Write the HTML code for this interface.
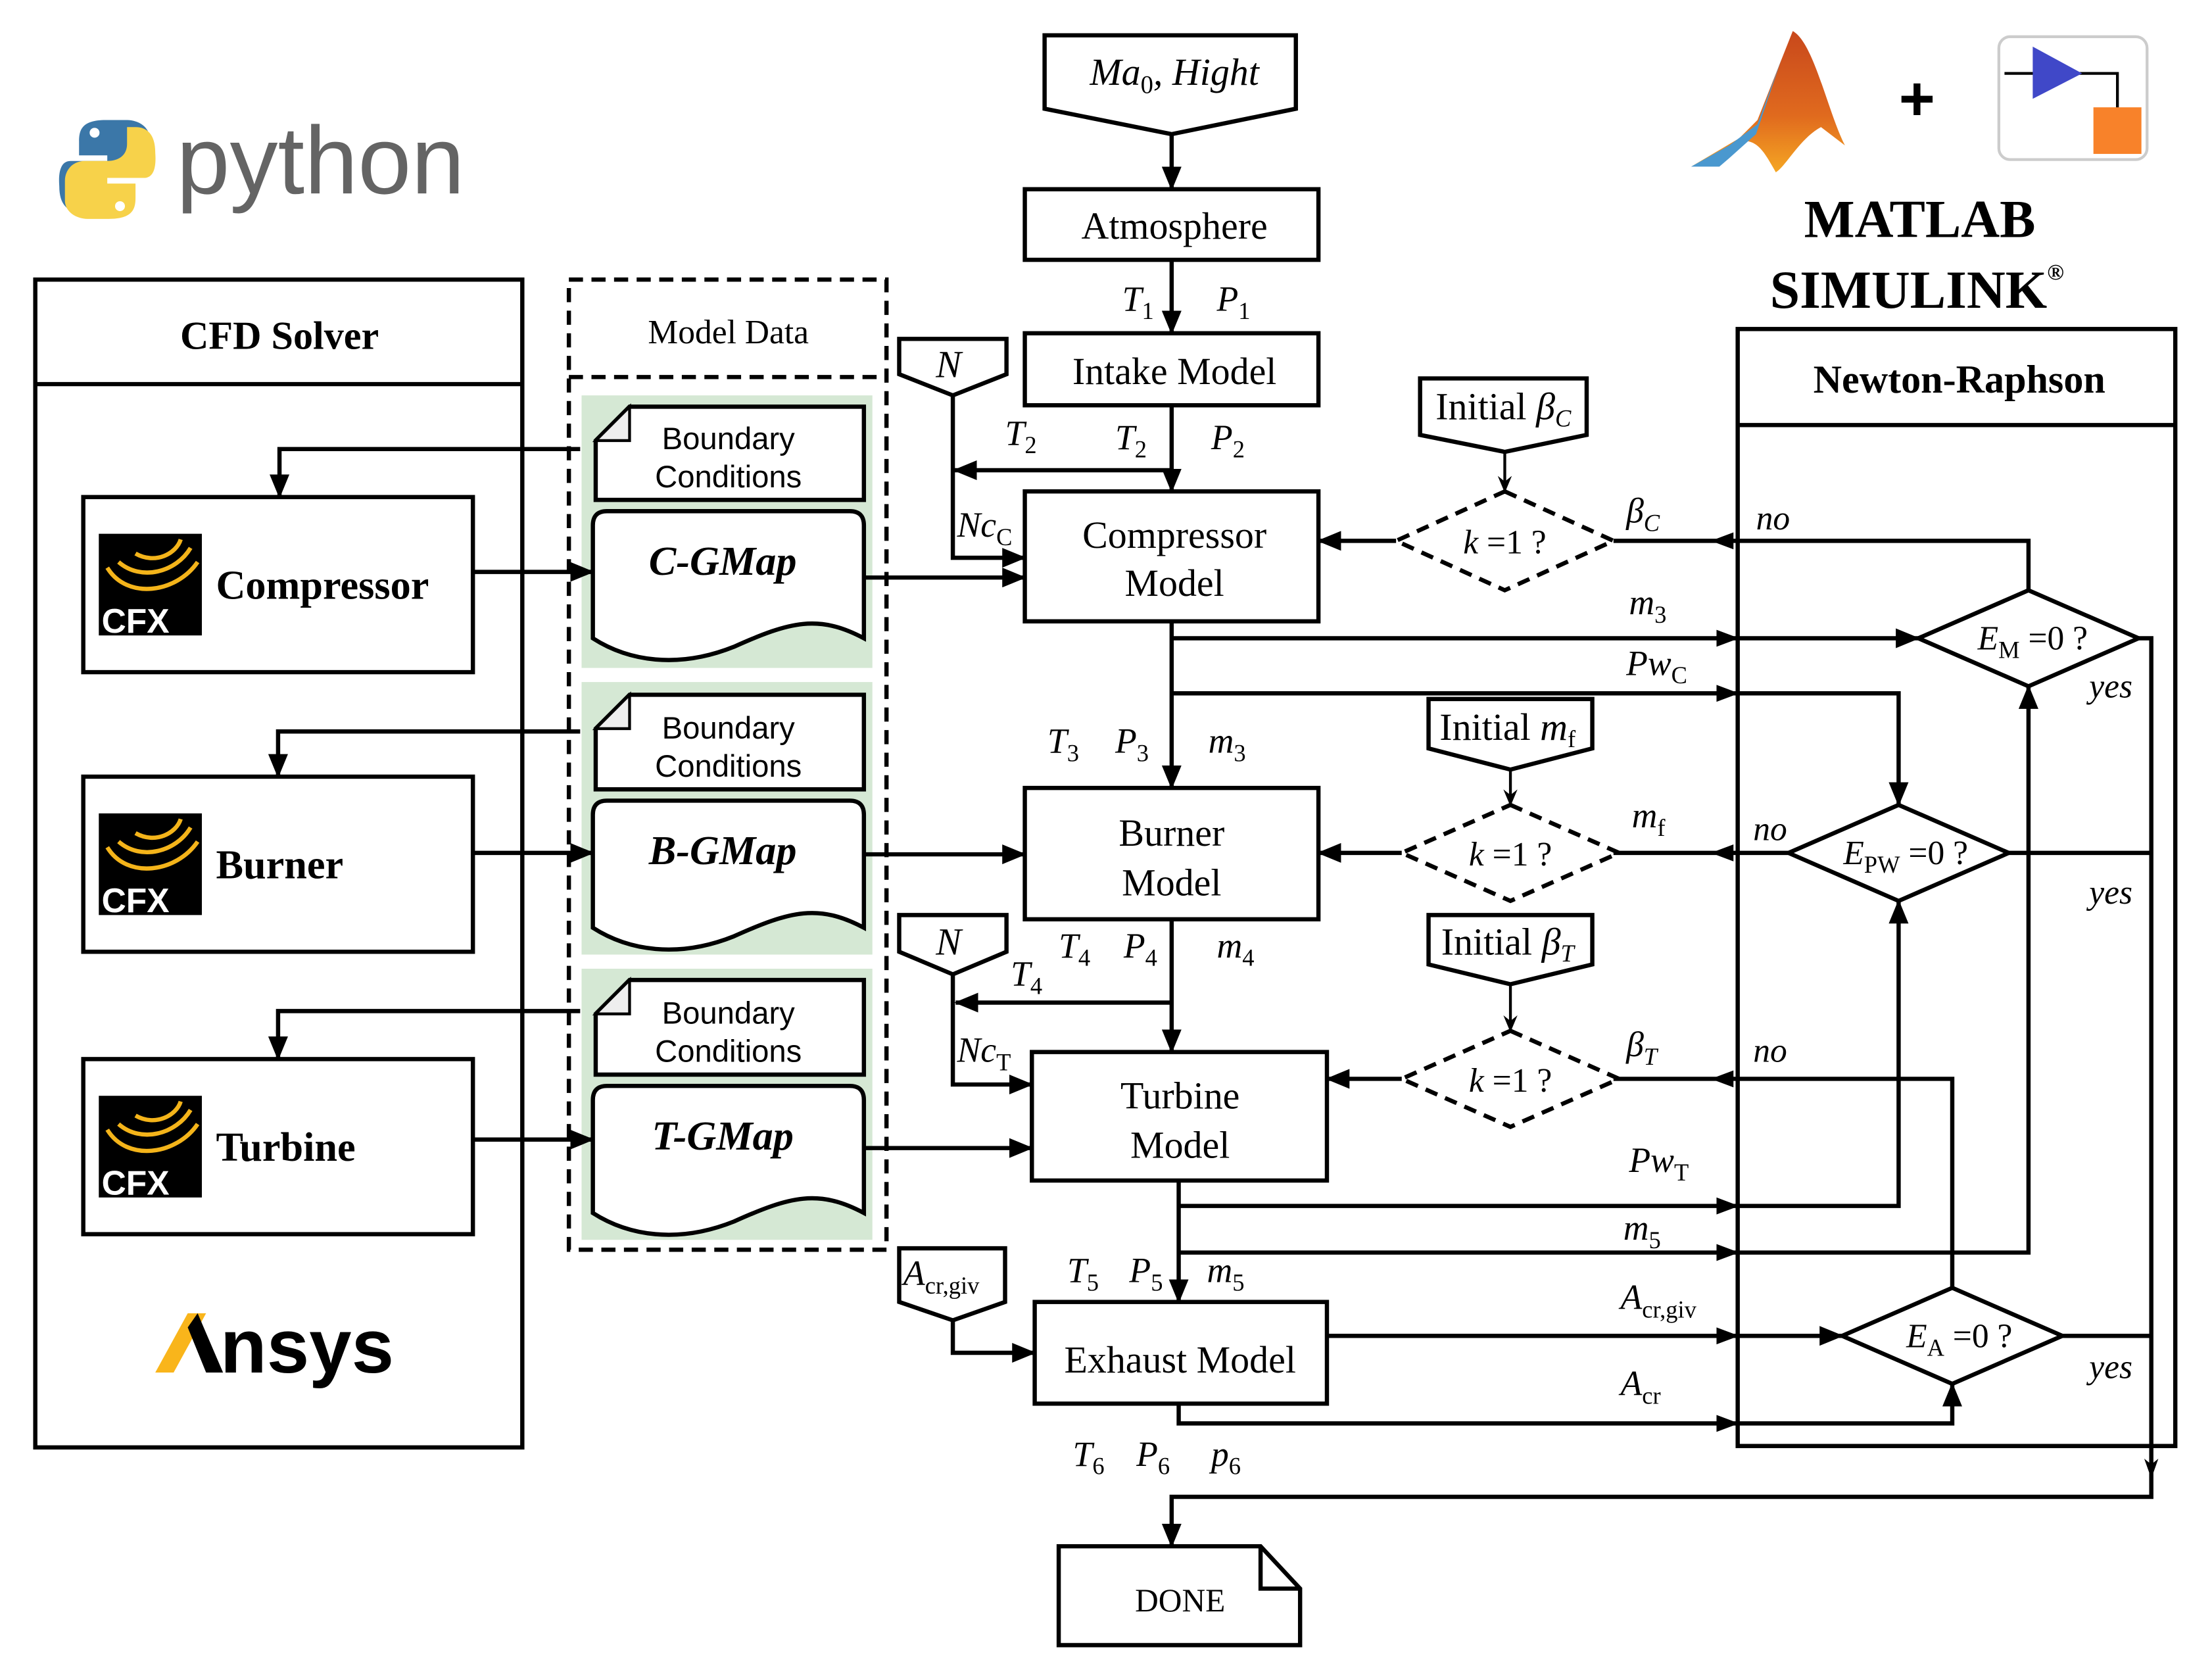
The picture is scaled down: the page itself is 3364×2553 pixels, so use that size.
<!DOCTYPE html>
<html><head><meta charset="utf-8"><style>
html,body{margin:0;padding:0;background:#fff}
svg{display:block}
text{font-family:"Liberation Serif",serif}
.s{font-family:"Liberation Sans",sans-serif}
.i{font-style:italic}
</style></head><body>
<svg width="3364" height="2553" viewBox="0 0 1567 1189" preserveAspectRatio="none" xmlns="http://www.w3.org/2000/svg">
<defs>
<marker id="a" markerUnits="userSpaceOnUse" markerWidth="18" markerHeight="14" refX="16" refY="7" orient="auto"><path d="M0,0 L17,7 L0,14 Z" fill="#000"/></marker>
<marker id="sm" markerUnits="userSpaceOnUse" markerWidth="12" markerHeight="10" refX="11" refY="5" orient="auto"><path d="M0,0 L12,5 L0,10 L4,5 Z" fill="#000"/></marker>
<linearGradient id="mg" x1="0" y1="0" x2="0" y2="1"><stop offset="0" stop-color="#c8481c"/><stop offset="0.6" stop-color="#e06a1e"/><stop offset="1" stop-color="#f5a623"/></linearGradient>
</defs>
<rect width="1567" height="1189" fill="#fff"/>

<!-- python logo -->
<path d="M75,85 C58,85 56,92 56,100 L56,110 L76,110 L76,114 L50,114 C40,114 42,130 42,132 C42,145 48,150 56,150 L62,150 L62,138 C62,130 68,126 76,126 L92,126 C100,126 106,120 106,112 L106,98 C106,90 98,85 90,85 Z" fill="#3b77a8"/>
<path d="M77,155 C94,155 96,148 96,140 L96,130 L76,130 L76,126 L102,126 C112,126 110,110 110,108 C110,95 104,90 96,90 L90,90 L90,102 C90,110 84,114 76,114 L60,114 C52,114 46,120 46,128 L46,142 C46,150 54,155 62,155 Z" fill="#f7d24a"/>
<circle cx="67" cy="94" r="3.5" fill="#fff"/><circle cx="85" cy="146" r="3.5" fill="#fff"/>
<text x="125" y="137" class="s" font-size="68" fill="#646464">python</text>

<!-- matlab logo -->
<path d="M1198,118 L1232,98 L1245,85 L1270,22 C1285,30 1295,80 1307,103 L1290,90 C1275,98 1265,118 1258,122 C1250,108 1245,98 1232,100 Z" fill="url(#mg)"/>
<path d="M1198,118 L1225,103 L1245,88 L1262,42 L1244,95 L1225,112 L1218,118 Z" fill="#4a98cf"/>
<text x="1358" y="85" font-size="44" font-weight="bold" text-anchor="middle" class="s">+</text>
<rect x="1416" y="26" width="105" height="87" rx="8" fill="#fff" stroke="#ccc" stroke-width="2"/>
<line x1="1420" y1="52" x2="1472" y2="52" stroke="#000" stroke-width="2"/>
<polyline points="1460,52 1500,52 1500,78" fill="none" stroke="#000" stroke-width="2"/>
<path d="M1440,33 L1475,52 L1440,70 Z" fill="#4048c8"/>
<rect x="1483" y="76" width="34" height="33" fill="#f8822a"/>
<text x="1360" y="168" font-size="38" font-weight="bold" text-anchor="middle">MATLAB</text>
<text x="1358" y="218" font-size="38" font-weight="bold" text-anchor="middle">SIMULINK<tspan font-size="16" dy="-20">®</tspan></text>

<g stroke="#000" stroke-width="3" fill="none">
<rect x="25" y="198" width="345" height="827"/>
<line x1="25" y1="272" x2="370" y2="272"/>
<rect x="59" y="352" width="276" height="124"/>
<rect x="59" y="550" width="276" height="124"/>
<rect x="59" y="750" width="276" height="124"/>
<rect x="403" y="198" width="225" height="687" stroke-dasharray="10,6"/>
<line x1="403" y1="267" x2="628" y2="267" stroke-dasharray="10,6"/>
</g>
<g fill="#d5e8d4">
<rect x="412" y="280" width="206" height="193"/>
<rect x="412" y="483" width="206" height="193"/>
<rect x="412" y="686" width="206" height="192"/>
</g>
<g stroke="#000" stroke-width="3" fill="#fff">
<path d="M446,288 L612,288 L612,354 L422,354 L422,312 Z"/>
<path d="M446,492 L612,492 L612,559 L422,559 L422,516 Z"/>
<path d="M446,694 L612,694 L612,761 L422,761 L422,718 Z"/>
<path d="M430,362 L602,362 Q612,362 612,372 L612,452 C580,435 560,440 520,458 C480,474 445,468 420,452 L420,372 Q420,362 430,362 Z"/>
<path d="M430,567 L602,567 Q612,567 612,577 L612,657 C580,640 560,645 520,663 C480,679 445,673 420,657 L420,577 Q420,567 430,567 Z"/>
<path d="M430,769 L602,769 Q612,769 612,779 L612,859 C580,842 560,847 520,865 C480,881 445,875 420,859 L420,779 Q420,769 430,769 Z"/>
</g>
<g fill="#eee" stroke="#000" stroke-width="2"><path d="M446,288 L446,312 L422,312 Z"/><path d="M446,492 L446,516 L422,516 Z"/><path d="M446,694 L446,718 L422,718 Z"/></g>

<g>
<rect x="70" y="378" width="73" height="72" fill="#000"/><rect x="70" y="576" width="73" height="72" fill="#000"/><rect x="70" y="776" width="73" height="72" fill="#000"/>
<g fill="none" stroke="#f4b41a" stroke-width="3">
<path d="M76,402 C90,425 125,420 140,398 M84,398 C100,412 125,405 135,388 M96,392 C110,400 125,392 128,382"/>
<path d="M76,600 C90,623 125,618 140,596 M84,596 C100,610 125,603 135,586 M96,590 C110,598 125,590 128,580"/>
<path d="M76,800 C90,823 125,818 140,796 M84,796 C100,810 125,803 135,786 M96,790 C110,798 125,790 128,780"/>
</g>
<g fill="#fff" font-size="24" font-weight="bold" class="s"><text x="72" y="448" class="s">CFX</text><text x="72" y="646" class="s">CFX</text><text x="72" y="846" class="s">CFX</text></g>
</g>
<path d="M110,972 L133,930 L146,930 L123,972 Z" fill="#f9b51b"/>
<path d="M133,940 L140,930 L158,972 L146,972 Z" fill="#000"/>
<text x="156" y="972" class="s" font-size="54" font-weight="bold">nsys</text>

<text x="198" y="247" font-size="28" font-weight="bold" text-anchor="middle">CFD Solver</text>
<text x="153" y="424" font-size="29" font-weight="bold">Compressor</text>
<text x="153" y="622" font-size="29" font-weight="bold">Burner</text>
<text x="153" y="822" font-size="29" font-weight="bold">Turbine</text>
<text x="516" y="243" font-size="24" text-anchor="middle">Model Data</text>
<g class="s" font-size="22" text-anchor="middle">
<text x="516" y="318" class="s">Boundary</text><text x="516" y="345" class="s">Conditions</text>
<text x="516" y="523" class="s">Boundary</text><text x="516" y="550" class="s">Conditions</text>
<text x="516" y="725" class="s">Boundary</text><text x="516" y="752" class="s">Conditions</text>
</g>
<g font-size="29" font-weight="bold" font-style="italic" text-anchor="middle">
<text x="512" y="407">C-GMap</text><text x="512" y="612">B-GMap</text><text x="512" y="814">T-GMap</text>
</g>

<g stroke="#000" stroke-width="3" fill="#fff">
<path d="M740,25 L918,25 L918,77 L830,95 L740,77 Z"/>
<rect x="726" y="134" width="208" height="50"/>
<rect x="726" y="236" width="208" height="51"/>
<rect x="726" y="348" width="208" height="92"/>
<rect x="726" y="558" width="208" height="93"/>
<rect x="731" y="745" width="209" height="91"/>
<rect x="733" y="922" width="207" height="72"/>
<path d="M637,240 L713,240 L713,265 L675,280 L637,265 Z"/>
<path d="M637,648 L713,648 L713,674 L675,690 L637,674 Z"/>
<path d="M637,884 L712,884 L712,922 L675,935 L637,922 Z"/>
<path d="M1006,268 L1124,268 L1124,308 L1066,320 L1006,308 Z"/>
<path d="M1012,495 L1128,495 L1128,530 L1070,545 L1012,530 Z"/>
<path d="M1012,648 L1128,648 L1128,683 L1070,697 L1012,683 Z"/>
<path d="M750,1095 L893,1095 L921,1125 L921,1165 L750,1165 Z"/>
<path d="M893,1095 L893,1125 L921,1125" fill="none"/>
<rect x="1231" y="233" width="310" height="791" fill="none"/>
<line x1="1231" y1="301" x2="1541" y2="301"/>
</g>
<g stroke="#000" stroke-width="3" fill="#fff" stroke-dasharray="9,6">
<path d="M1066,348 L1143,383 L1066,418 L989,383 Z"/>
<path d="M1070,570 L1147,604 L1070,638 L993,604 Z"/>
<path d="M1070,730 L1147,764 L1070,798 L993,764 Z"/>
</g>

<g stroke="#000" stroke-width="3" fill="none" marker-end="url(#a)">
<polyline points="411,318 198,318 198,352"/>
<polyline points="411,518 197,518 197,550"/>
<polyline points="411,716 197,716 197,750"/>
<line x1="335" y1="405" x2="420" y2="405"/>
<line x1="335" y1="604" x2="420" y2="604"/>
<line x1="335" y1="807" x2="420" y2="807"/>
<line x1="612" y1="409" x2="726" y2="409"/>
<line x1="612" y1="605" x2="726" y2="605"/>
<line x1="612" y1="813" x2="731" y2="813"/>
<line x1="830" y1="95" x2="830" y2="134"/>
<line x1="830" y1="184" x2="830" y2="236"/>
<line x1="830" y1="287" x2="830" y2="348"/>
<line x1="830" y1="333" x2="676" y2="333"/>
<polyline points="675,280 675,395 726,395"/>
<line x1="830" y1="440" x2="830" y2="558"/>
<line x1="830" y1="651" x2="830" y2="745"/>
<line x1="830" y1="710" x2="677" y2="710"/>
<polyline points="675,690 675,768 731,768"/>
<line x1="835" y1="836" x2="835" y2="922"/>
<polyline points="675,935 675,958 733,958"/>
<line x1="989" y1="383" x2="934" y2="383"/>
<line x1="993" y1="604" x2="934" y2="604"/>
<line x1="993" y1="764" x2="940" y2="764"/>
<polyline points="830,452 1359,452"/>
<polyline points="830,491 1345,491 1345,570"/>
<polyline points="835,854 1345,854 1345,638"/>
<polyline points="835,887 1437,887 1437,486"/>
<polyline points="940,946 1305,946"/>
<polyline points="835,994 835,1008 1383,1008 1383,980"/>
<polyline points="1515,452 1524,452 1524,1060 830,1060 830,1095"/>
</g>
<g stroke="#000" stroke-width="2" fill="none" marker-end="url(#sm)">
<line x1="1066" y1="320" x2="1066" y2="348"/>
<line x1="1070" y1="545" x2="1070" y2="570"/>
<line x1="1070" y1="697" x2="1070" y2="730"/>
</g>
<g stroke="#000" stroke-width="3" fill="none">
<polyline points="1143,383 1437,383 1437,418"/>
<line x1="1143" y1="604" x2="1267" y2="604"/>
<polyline points="1143,764 1383,764 1383,912"/>
<line x1="1423" y1="604" x2="1524" y2="604"/>
<line x1="1461" y1="946" x2="1524" y2="946"/>
</g>
<g fill="#000">
<path d="M1212,383 L1228,377 L1228,389 Z"/><path d="M1212,604 L1228,598 L1228,610 Z"/><path d="M1212,764 L1228,758 L1228,770 Z"/>
<path d="M1232,452 L1216,446 L1216,458 Z"/><path d="M1232,491 L1216,485 L1216,497 Z"/><path d="M1232,854 L1216,848 L1216,860 Z"/>
<path d="M1232,887 L1216,881 L1216,893 Z"/><path d="M1232,946 L1216,940 L1216,952 Z"/><path d="M1232,1008 L1216,1002 L1216,1014 Z"/>
<path d="M1524,1047 L1519,1033 L1524,1037 L1529,1033 Z"/>
</g>
<g stroke="#000" stroke-width="3" fill="#fff">
<path d="M1437,418 L1515,452 L1437,486 L1359,452 Z"/>
<path d="M1345,570 L1423,604 L1345,638 L1267,604 Z"/>
<path d="M1383,912 L1461,946 L1383,980 L1305,946 Z"/>
</g>

<g font-size="27" text-anchor="middle">
<text x="832" y="60" font-style="italic">Ma<tspan font-size="18" dy="6" font-style="normal">0</tspan><tspan dy="-6">, Hight</tspan></text>
<text x="832" y="169">Atmosphere</text>
<text x="832" y="272">Intake Model</text>
<text x="832" y="388">Compressor</text><text x="832" y="422">Model</text>
<text x="830" y="599">Burner</text><text x="830" y="634">Model</text>
<text x="836" y="785">Turbine</text><text x="836" y="820">Model</text>
<text x="836" y="972">Exhaust Model</text>
<text x="836" y="1141" font-size="23">DONE</text>
<text x="1065" y="297">Initial <tspan font-style="italic">β<tspan font-size="17" dy="5">C</tspan></tspan></text>
<text x="1068" y="524">Initial <tspan font-style="italic">m<tspan font-size="17" dy="5" font-style="normal">f</tspan></tspan></text>
<text x="1068" y="676">Initial <tspan font-style="italic">β<tspan font-size="17" dy="5">T</tspan></tspan></text>
<text x="672" y="267" font-style="italic">N</text>
<text x="672" y="676" font-style="italic">N</text>
</g>
<text x="1388" y="278" font-size="28" font-weight="bold" text-anchor="middle">Newton-Raphson</text>
<g font-size="24" text-anchor="middle">
<text x="1066" y="392"><tspan font-style="italic">k</tspan> =1 ?</text>
<text x="1070" y="613"><tspan font-style="italic">k</tspan> =1 ?</text>
<text x="1070" y="773"><tspan font-style="italic">k</tspan> =1 ?</text>
<text x="1440" y="460"><tspan font-style="italic">E</tspan><tspan font-size="17" dy="6">M</tspan><tspan dy="-6"> =0 ?</tspan></text>
<text x="1350" y="612"><tspan font-style="italic">E</tspan><tspan font-size="17" dy="6">PW</tspan><tspan dy="-6"> =0 ?</tspan></text>
<text x="1388" y="954"><tspan font-style="italic">E</tspan><tspan font-size="17" dy="6">A</tspan><tspan dy="-6"> =0 ?</tspan></text>
</g>
<g font-size="24" font-style="italic">
<text x="1244" y="375">no</text><text x="1242" y="595">no</text><text x="1242" y="752">no</text>
<text x="1480" y="494">yes</text><text x="1480" y="640">yes</text><text x="1480" y="976">yes</text>
</g>
<g font-size="25" font-style="italic">
<text x="795" y="220">T<tspan font-size="17" dy="6" font-style="normal">1</tspan></text>
<text x="862" y="220">P<tspan font-size="17" dy="6" font-style="normal">1</tspan></text>
<text x="712" y="315">T<tspan font-size="17" dy="6" font-style="normal">2</tspan></text>
<text x="790" y="318">T<tspan font-size="17" dy="6" font-style="normal">2</tspan></text>
<text x="858" y="318">P<tspan font-size="17" dy="6" font-style="normal">2</tspan></text>
<text x="678" y="380">Nc<tspan font-size="17" dy="6" font-style="normal">C</tspan></text>
<text x="742" y="533">T<tspan font-size="17" dy="6" font-style="normal">3</tspan></text>
<text x="790" y="533">P<tspan font-size="17" dy="6" font-style="normal">3</tspan></text>
<text x="856" y="533">m<tspan font-size="17" dy="6" font-style="normal">3</tspan></text>
<text x="1154" y="435">m<tspan font-size="17" dy="6" font-style="normal">3</tspan></text>
<text x="1152" y="478">Pw<tspan font-size="17" dy="6" font-style="normal">C</tspan></text>
<text x="1152" y="370">β<tspan font-size="17" dy="6">C</tspan></text>
<text x="1156" y="586">m<tspan font-size="17" dy="6" font-style="normal">f</tspan></text>
<text x="750" y="678">T<tspan font-size="17" dy="6" font-style="normal">4</tspan></text>
<text x="796" y="678">P<tspan font-size="17" dy="6" font-style="normal">4</tspan></text>
<text x="862" y="678">m<tspan font-size="17" dy="6" font-style="normal">4</tspan></text>
<text x="716" y="698">T<tspan font-size="17" dy="6" font-style="normal">4</tspan></text>
<text x="678" y="752">Nc<tspan font-size="17" dy="6" font-style="normal">T</tspan></text>
<text x="1152" y="748">β<tspan font-size="17" dy="6">T</tspan></text>
<text x="1154" y="830">Pw<tspan font-size="17" dy="6" font-style="normal">T</tspan></text>
<text x="1150" y="878">m<tspan font-size="17" dy="6" font-style="normal">5</tspan></text>
<text x="756" y="908">T<tspan font-size="17" dy="6" font-style="normal">5</tspan></text>
<text x="800" y="908">P<tspan font-size="17" dy="6" font-style="normal">5</tspan></text>
<text x="855" y="908">m<tspan font-size="17" dy="6" font-style="normal">5</tspan></text>
<text x="640" y="910">A<tspan font-size="17" dy="6" font-style="normal">cr,giv</tspan></text>
<text x="1148" y="927">A<tspan font-size="17" dy="6" font-style="normal">cr,giv</tspan></text>
<text x="1148" y="988">A<tspan font-size="17" dy="6" font-style="normal">cr</tspan></text>
<text x="760" y="1038">T<tspan font-size="17" dy="6" font-style="normal">6</tspan></text>
<text x="805" y="1038">P<tspan font-size="17" dy="6" font-style="normal">6</tspan></text>
<text x="858" y="1038">p<tspan font-size="17" dy="6" font-style="normal">6</tspan></text>
</g>
</svg>
</body></html>
